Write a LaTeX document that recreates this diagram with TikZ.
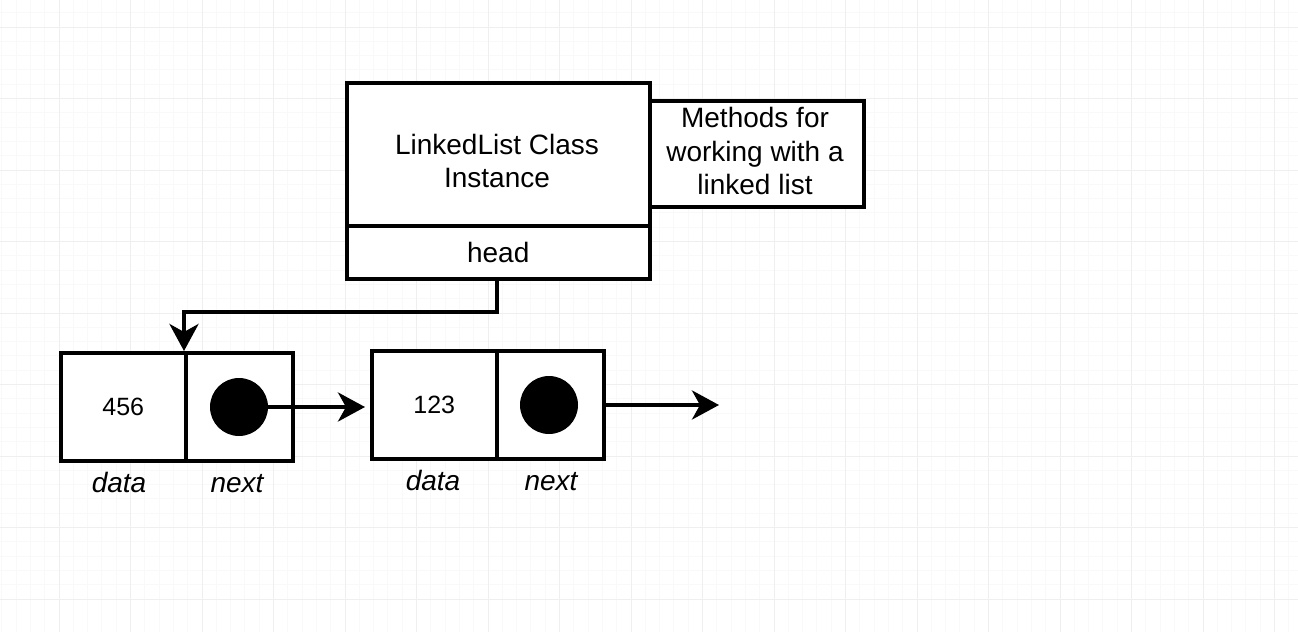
\documentclass[tikz,border=0pt]{standalone}
\usepackage{fontspec}
\setmainfont{Liberation Sans}
\usetikzlibrary{arrows.meta}
\definecolor{gridmajor}{HTML}{EFEFEF}
\definecolor{gridminor}{HTML}{F9F9F9}
\begin{document}
\begin{tikzpicture}[x=1pt,y=-1pt,
  box/.style={draw=black, line width=3.5pt, fill=white, inner sep=0pt, anchor=north west, align=center,
    font=\fontsize{28}{33.5}\selectfont},
  txt/.style={inner sep=0pt, align=center, font=\fontsize{28}{33.5}\selectfont},
  numtxt/.style={font=\fontsize{25}{30}\selectfont},
  lbl/.style={font=\fontsize{28}{33}\selectfont\itshape, inner sep=0pt, anchor=base},
  dot/.style={circle, fill=black, minimum size=58pt, inner sep=0pt},
  conn/.style={line width=4pt, -{Stealth[length=27pt, width=29pt, inset=8pt]}}
]
\useasboundingbox (0,0) rectangle (1298,632);
\fill[white] (0,0) rectangle (1298,632);
% grid
\foreach \i in {0,...,91} {
  \draw[gridminor, line width=1pt] ({-12.5+14.3*\i},0) -- ({-12.5+14.3*\i},632);
}
\foreach \i in {0,...,45} {
  \draw[gridminor, line width=1pt] (0,{-44.5+14.3*\i}) -- (1298,{-44.5+14.3*\i});
}
\foreach \i in {0,...,18} {
  \draw[gridmajor, line width=1pt] ({-12.5+71.5*\i},0) -- ({-12.5+71.5*\i},632);
}
\foreach \i in {0,...,9} {
  \draw[gridmajor, line width=1pt] (0,{-44.5+71.5*\i}) -- (1298,{-44.5+71.5*\i});
}
% class instance
\node[box, minimum width=303pt, minimum height=143pt] (cls) at (345,81) {};
\node[txt] (clstext) at (497,161) {LinkedList Class\\Instance};
\node[box, minimum width=303pt, minimum height=53pt] (head) at (345,224) {head};
\node[box, minimum width=214pt, minimum height=106pt] (methods) at (648,99) {};
\node[txt] (methtext) at (755,151) {Methods for\\working with a\\linked list};
% node 1
\node[box, minimum width=125pt, minimum height=108pt, numtxt] (d1) at (59,351) {456};
\node[box, minimum width=107pt, minimum height=108pt] (x1) at (184,351) {};
\node[dot] (c1) at (239,407) {};
% node 2
\node[box, minimum width=125pt, minimum height=108pt, numtxt] (d2) at (370,349) {123};
\node[box, minimum width=107pt, minimum height=108pt] (x2) at (495,349) {};
\node[dot] (c2) at (549,405) {};
% labels
\node[lbl] (l1) at (119,492) {data};
\node[lbl] (l2) at (237,492) {next};
\node[lbl] (l3) at (433,490) {data};
\node[lbl] (l4) at (551,490) {next};
% connectors
\coordinate (bend1) at (497,312);
\coordinate (bend2) at (184,312);
\draw[conn] (head.south -| bend1) -- (bend1) -- (bend2) -- (bend2 |- d1.north);
\draw[conn, shorten >=5pt] (c1.east) -- (c1 -| d2.west);
\coordinate (free) at (719,405);
\draw[conn] (x2.east |- c2) -- (free);
\end{tikzpicture}
\end{document}
